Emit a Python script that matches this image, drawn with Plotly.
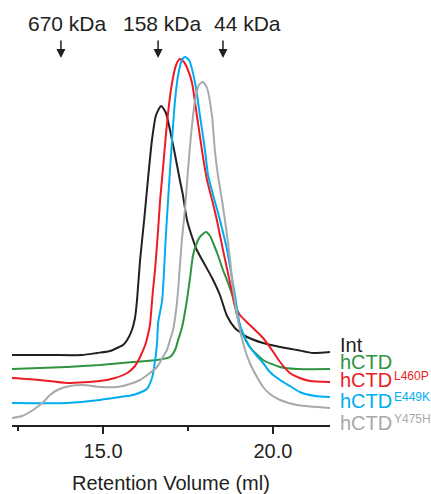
#!/usr/bin/env python3

import plotly.graph_objects as go

# retention volume (ml) / absorbance (a.u.)
int_vol = [12.32, 13.44, 14.38, 14.82, 15.21, 15.41, 15.59, 15.71, 15.85, 15.94, 16.00, 16.09, 16.21,
           16.32, 16.44, 16.56, 16.71, 16.85, 16.97, 17.12, 17.26, 17.35, 17.47, 17.62, 17.76, 18.00,
           18.21, 18.44, 18.65, 18.88, 19.24, 19.71, 20.21, 20.71, 21.18, 21.68]
int_abs = [70, 70, 70, 72, 74, 77, 80, 85, 95, 107, 125, 165, 205,
           245, 285, 310, 319, 312, 295, 270, 245, 230, 205, 188, 175, 160,
           147, 130, 109, 97, 88, 82, 78, 75, 72, 73]

hctd_vol = [12.32, 13.94, 14.91, 15.88, 16.59, 16.97, 17.12, 17.21, 17.32, 17.47, 17.56, 17.65, 17.76,
            17.85, 18.03, 18.15, 18.24, 18.38, 18.53, 18.68, 18.82, 18.94, 19.09, 19.32, 19.71, 20.21,
            20.71, 21.68]
hctd_abs = [56, 58, 60, 63, 65, 68, 75, 85, 97, 125, 147, 170, 182,
            188, 193, 189, 182, 170, 155, 142, 128, 110, 93, 78, 65, 58,
            56, 56]

l460p_vol = [12.32, 13.15, 13.94, 14.91, 15.35, 15.71, 15.94, 16.09, 16.24, 16.32, 16.38, 16.47, 16.53,
             16.62, 16.68, 16.76, 16.85, 16.94, 17.03, 17.15, 17.26, 17.38, 17.50, 17.62, 17.76, 17.91,
             18.06, 18.21, 18.35, 18.53, 18.74, 18.88, 19.03, 19.32, 19.71, 19.97, 20.21, 20.50, 20.79,
             21.09, 21.68]
l460p_abs = [47, 45, 42, 44, 47, 52, 59, 68, 80, 90, 100, 135, 155,
             195, 225, 255, 290, 320, 342, 360, 366, 363, 355, 342, 310, 275,
             245, 225, 205, 175, 142, 120, 110, 100, 87, 75, 63, 52, 47,
             44, 43]

e449k_vol = [12.32, 13.94, 14.91, 15.50, 15.88, 16.29, 16.44, 16.50, 16.59, 16.62, 16.74, 16.85, 16.97,
             17.03, 17.12, 17.21, 17.32, 17.41, 17.53, 17.71, 17.85, 18.00, 18.09, 18.24, 18.44, 18.65,
             18.88, 19.03, 19.18, 19.32, 19.53, 19.71, 19.91, 20.21, 20.50, 20.79, 21.24, 21.68]
e449k_abs = [22, 22, 25, 28, 30, 36, 47, 57, 82, 102, 125, 190, 255,
             285, 325, 350, 365, 368, 365, 342, 310, 275, 250, 230, 205, 175,
             130, 100, 87, 78, 69, 62, 53, 45, 39, 33, 29, 28]

y475h_vol = [12.32, 12.62, 12.85, 13.06, 13.24, 13.44, 13.65, 14.03, 14.41, 14.91, 15.41, 15.79, 16.09,
             16.38, 16.59, 16.76, 16.88, 16.97, 17.06, 17.15, 17.21, 17.32, 17.41, 17.50, 17.59, 17.71,
             17.82, 17.94, 18.06, 18.21, 18.29, 18.38, 18.50, 18.62, 18.74, 18.82, 19.03, 19.18, 19.32,
             19.53, 19.71, 19.91, 20.21, 20.71, 21.68]
y475h_abs = [7, 9, 13, 18, 23, 30, 35, 39, 40, 38, 38, 41, 45,
             52, 58, 68, 75, 85, 95, 115, 135, 185, 215, 255, 290, 325,
             340, 343, 337, 308, 275, 250, 225, 197, 165, 138, 95, 75, 62,
             48, 38, 31, 25, 20, 17]

# size standards (ml)
std_vol = [13.76, 16.62, 18.53]
std_labels = ['670 kDa', '158 kDa', '44 kDa']
std_label_vol = [13.94, 16.74, 19.24]

names = ['Int', 'hCTD', 'hCTD', 'hCTD', 'hCTD']
mutations = ['', '', 'L460P', 'E449K', 'Y475H']
colors = ['#231f20', '#2e9440', '#ed1c24', '#00aeef', '#a7a9ac']
label_abs = [80, 63, 45, 24, 2]

traces = [(int_vol, int_abs), (hctd_vol, hctd_abs), (l460p_vol, l460p_abs),
          (e449k_vol, e449k_abs), (y475h_vol, y475h_abs)]

FONT = 'Liberation Sans, Arial, Helvetica, sans-serif'

fig = go.Figure()
for (x, y), name, mut, color in zip(traces, names, mutations, colors):
    fig.add_trace(go.Scatter(x=x, y=y, mode='lines', name=name + mut,
                             line=dict(color=color, width=2, shape='spline', smoothing=0.6)))

annotations = []
for vol in std_vol:
    annotations.append(dict(x=vol, y=367, xref='x', yref='y', text='', showarrow=True,
                            ax=0, ay=-19, arrowhead=2, arrowsize=1.2, arrowwidth=1.5,
                            arrowcolor='#231f20'))
for vol, label in zip(std_label_vol, std_labels):
    annotations.append(dict(x=vol, y=402, xref='x', yref='y', text=label, showarrow=False,
                            font=dict(size=21, color='#231f20')))
for name, mut, color, y in zip(names, mutations, colors, label_abs):
    annotations.append(dict(x=1.025, y=y, xref='paper', yref='y', text=name, showarrow=False,
                            xanchor='left', font=dict(size=20, color=color)))
    if mut:
        annotations.append(dict(x=1.195, y=y + 4, xref='paper', yref='y', text=mut,
                                showarrow=False, xanchor='left',
                                font=dict(size=12, color=color)))
annotations.append(dict(x=0.5, y=-0.1365, xref='paper', yref='paper', showarrow=False,
                        yanchor='middle', text='Retention Volume (ml)',
                        font=dict(size=20, color='#231f20')))

fig.update_layout(
    width=431, height=494,
    margin=dict(l=12, r=101, t=0, b=69),
    paper_bgcolor='white', plot_bgcolor='white',
    showlegend=False,
    font=dict(family=FONT, size=20, color='#231f20'),
    annotations=annotations,
    xaxis=dict(
        range=[12.32, 21.68], showgrid=False, zeroline=False, automargin=False,
        showline=True, linecolor='#231f20', linewidth=1.5,
        ticks='outside', ticklen=7, tickwidth=1.5, tickcolor='#231f20',
        tickvals=[15, 20], ticktext=['15.0', '20.0'],
        minor=dict(tickvals=[12.5, 17.5], ticks='outside', ticklen=4, tickwidth=1.5,
                   tickcolor='#231f20'),
    ),
    yaxis=dict(range=[0, 425], visible=False, automargin=False),
)

# drop the browser's default 8px body margin so the figure fills the window
fig.write_html('out.html', config={'displayModeBar': False},
               post_script="document.body.style.margin = '0';")
